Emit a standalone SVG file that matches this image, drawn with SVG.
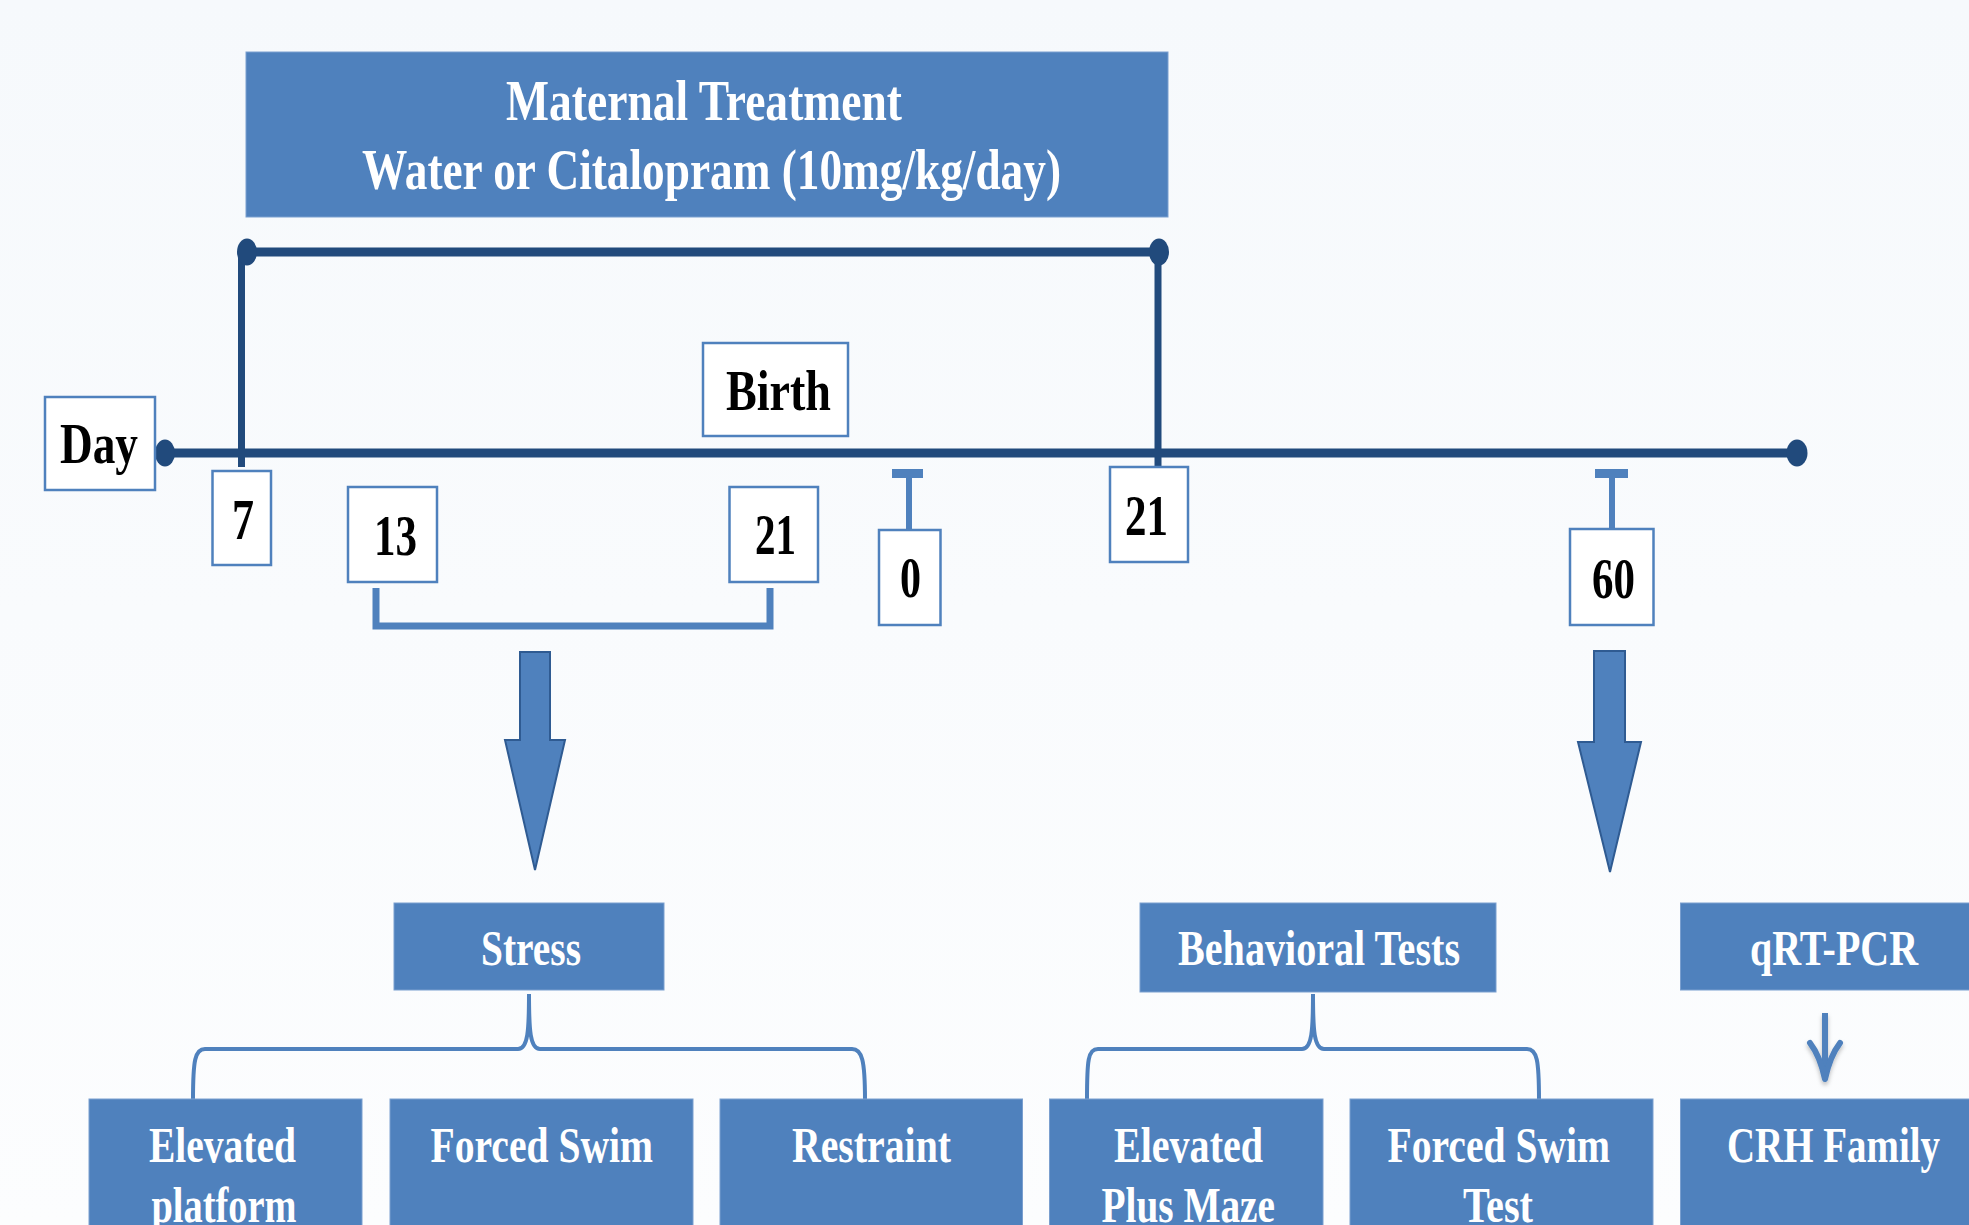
<svg xmlns="http://www.w3.org/2000/svg" width="1969" height="1225" viewBox="0 0 1969 1225">
<defs>
<linearGradient id="bg" x1="0" y1="0" x2="0" y2="1">
<stop offset="0" stop-color="#f6f9fc"/>
<stop offset="1" stop-color="#fcfdfe"/>
</linearGradient>
<filter id="sh" x="-50%" y="-20%" width="200%" height="150%">
<feDropShadow dx="0" dy="3" stdDeviation="2" flood-color="#000" flood-opacity="0.25"/>
</filter>
</defs>
<style>
.blue{fill:#4f81bd;stroke:#7a9fcf;stroke-width:1}
.white{fill:#ffffff;stroke:#4f81bd;stroke-width:2.5}
.wt{font-family:"Liberation Serif","Times New Roman",serif;font-weight:bold;fill:#ffffff;font-size:50px}
.bt{font-family:"Liberation Serif","Times New Roman",serif;font-weight:bold;fill:#000000;font-size:57px}
.navy{stroke:#214a7c;fill:none}
.dot{fill:#214a7c}
.lb{stroke:#4f81bd;fill:none}
.big{fill:#4f81bd;stroke:#2f5b92;stroke-width:2}
</style>
<rect x="0" y="0" width="1969" height="1225" fill="url(#bg)"/>

<g id="connectors">
<!-- treatment span -->
<line class="navy" x1="245" y1="252" x2="1159" y2="252" stroke-width="9"/>
<line class="navy" x1="241.5" y1="252" x2="241.5" y2="467" stroke-width="7"/>
<line class="navy" x1="1158" y1="252" x2="1158" y2="467" stroke-width="7"/>
<ellipse class="dot" cx="247" cy="252" rx="10" ry="13.5"/>
<ellipse class="dot" cx="1159" cy="252" rx="10" ry="13.5"/>
<!-- main timeline -->
<line class="navy" x1="165" y1="453" x2="1797" y2="453" stroke-width="9"/>
<ellipse class="dot" cx="165" cy="453" rx="10" ry="13.5"/>
<ellipse class="dot" cx="1797" cy="453" rx="10.5" ry="13.5"/>
<!-- T markers -->
<rect x="892" y="469" width="31" height="9" fill="#4f81bd"/>
<rect x="906" y="477" width="6" height="53" fill="#4f81bd"/>
<rect x="1595" y="469" width="33" height="9" fill="#4f81bd"/>
<rect x="1609" y="477" width="6" height="52" fill="#4f81bd"/>
<!-- bracket 13-21 -->
<path class="lb" d="M376,588 V626 H770 V588" stroke-width="7"/>
<!-- big arrows -->
<polygon class="big" points="520,652 550,652 550,740 565,740 535,870 505,740 520,740"/>
<polygon class="big" points="1594,651 1625,651 1625,742 1641,742 1610,872 1578,742 1594,742"/>
<!-- braces -->
<path class="lb" stroke-width="4" d="M529,994 C529,1030 528,1049 518,1049 L205,1049 C195,1049 193,1060 193,1100 M529,994 C529,1030 530,1049 540,1049 L852,1049 C862,1049 865,1060 865,1100"/>
<path class="lb" stroke-width="4" d="M1313,994 C1313,1030 1312,1049 1302,1049 L1098,1049 C1088,1049 1087,1060 1087,1100 M1313,994 C1313,1030 1314,1049 1324,1049 L1527,1049 C1537,1049 1539,1060 1539,1100"/>
<!-- small arrow -->
<g filter="url(#sh)">
<line x1="1825" y1="1013" x2="1825" y2="1074" stroke="#4f81bd" stroke-width="6"/>
<path d="M1810,1043 Q1820,1056 1825,1079 Q1830,1056 1840,1043" fill="none" stroke="#4f81bd" stroke-width="6" stroke-linecap="round" stroke-linejoin="round"/>
</g>
</g>

<g id="maternal">
<rect class="blue" x="246" y="52" width="922" height="165"/>
<text class="wt" style="font-size:57px" x="506" y="120" textLength="396" lengthAdjust="spacingAndGlyphs">Maternal Treatment</text>
<text class="wt" style="font-size:57px" x="362" y="189" textLength="699" lengthAdjust="spacingAndGlyphs">Water or Citalopram (10mg/kg/day)</text>
</g>

<g id="day">
<rect class="white" x="45" y="397" width="110" height="93"/>
<text class="bt" x="60" y="463" textLength="78" lengthAdjust="spacingAndGlyphs">Day</text>
</g>
<g id="birth">
<rect class="white" x="703" y="343" width="145" height="93"/>
<text class="bt" x="726" y="410" textLength="105" lengthAdjust="spacingAndGlyphs">Birth</text>
</g>
<g id="d7">
<rect class="white" x="212.5" y="471" width="58.5" height="94"/>
<text class="bt" x="232" y="539" textLength="22" lengthAdjust="spacingAndGlyphs">7</text>
</g>
<g id="d13">
<rect class="white" x="348" y="487" width="89" height="95"/>
<text class="bt" x="374" y="555" textLength="43" lengthAdjust="spacingAndGlyphs">13</text>
</g>
<g id="d21a">
<rect class="white" x="729.5" y="487" width="88.5" height="95"/>
<text class="bt" x="755" y="554" textLength="41" lengthAdjust="spacingAndGlyphs">21</text>
</g>
<g id="d0">
<rect class="white" x="879" y="530" width="61.5" height="95"/>
<text class="bt" x="900" y="597" textLength="21" lengthAdjust="spacingAndGlyphs">0</text>
</g>
<g id="d21b">
<rect class="white" x="1110" y="467" width="78" height="95"/>
<text class="bt" x="1125" y="535" textLength="43" lengthAdjust="spacingAndGlyphs">21</text>
</g>
<g id="d60">
<rect class="white" x="1570" y="529" width="83.5" height="96"/>
<text class="bt" x="1592" y="598" textLength="43" lengthAdjust="spacingAndGlyphs">60</text>
</g>

<g id="stress">
<rect class="blue" x="394" y="903" width="270" height="87"/>
<text class="wt" x="481" y="965" textLength="100" lengthAdjust="spacingAndGlyphs">Stress</text>
</g>
<g id="behavioral">
<rect class="blue" x="1140" y="903" width="356" height="89"/>
<text class="wt" x="1178" y="965" textLength="282" lengthAdjust="spacingAndGlyphs">Behavioral Tests</text>
</g>
<g id="qrtpcr">
<rect class="blue" x="1680.5" y="903" width="300" height="87"/>
<text class="wt" x="1750" y="965" textLength="168" lengthAdjust="spacingAndGlyphs">qRT-PCR</text>
</g>

<g id="elevated-platform">
<rect class="blue" x="89" y="1099" width="273" height="140"/>
<text class="wt" x="149" y="1162" textLength="147" lengthAdjust="spacingAndGlyphs">Elevated</text>
<text class="wt" x="151.5" y="1222" textLength="145" lengthAdjust="spacingAndGlyphs">platform</text>
</g>
<g id="forced-swim">
<rect class="blue" x="390" y="1099" width="303" height="140"/>
<text class="wt" x="430.5" y="1162" textLength="222.5" lengthAdjust="spacingAndGlyphs">Forced Swim</text>
</g>
<g id="restraint">
<rect class="blue" x="720" y="1099" width="302.5" height="140"/>
<text class="wt" x="792" y="1162" textLength="159" lengthAdjust="spacingAndGlyphs">Restraint</text>
</g>
<g id="elevated-plus-maze">
<rect class="blue" x="1049.5" y="1099" width="273.5" height="140"/>
<text class="wt" x="1114" y="1162" textLength="149" lengthAdjust="spacingAndGlyphs">Elevated</text>
<text class="wt" x="1101.5" y="1222" textLength="173.5" lengthAdjust="spacingAndGlyphs">Plus Maze</text>
</g>
<g id="forced-swim-test">
<rect class="blue" x="1350" y="1099" width="303" height="140"/>
<text class="wt" x="1387.5" y="1162" textLength="222.5" lengthAdjust="spacingAndGlyphs">Forced Swim</text>
<text class="wt" x="1463" y="1222" textLength="70" lengthAdjust="spacingAndGlyphs">Test</text>
</g>
<g id="crh-family">
<rect class="blue" x="1680.5" y="1099" width="300" height="140"/>
<text class="wt" x="1727" y="1162" textLength="213" lengthAdjust="spacingAndGlyphs">CRH Family</text>
</g>
</svg>
